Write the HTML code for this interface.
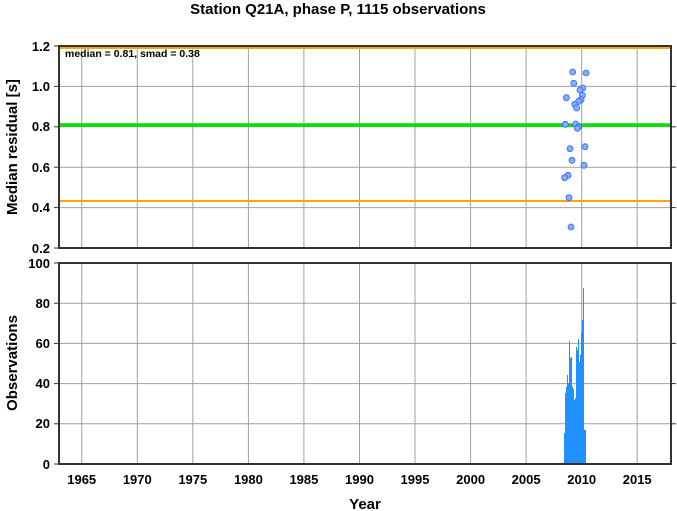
<!DOCTYPE html>
<html><head><meta charset="utf-8"><style>
html,body{margin:0;padding:0;background:#fff}
svg{display:block;font-family:"Liberation Sans",Arial,sans-serif;font-weight:bold}
</style></head><body>
<svg width="677" height="511" viewBox="0 0 677 511" xmlns="http://www.w3.org/2000/svg">
<text x="338" y="14" font-size="15" text-anchor="middle">Station Q21A, phase P, 1115 observations</text>
<g stroke="#a0a0a0" stroke-width="1">
<!-- vertical grid -->
<line x1="81.7" y1="46" x2="81.7" y2="248"/><line x1="137.3" y1="46" x2="137.3" y2="248"/><line x1="192.8" y1="46" x2="192.8" y2="248"/><line x1="248.4" y1="46" x2="248.4" y2="248"/><line x1="303.9" y1="46" x2="303.9" y2="248"/><line x1="359.5" y1="46" x2="359.5" y2="248"/><line x1="415" y1="46" x2="415" y2="248"/><line x1="470.6" y1="46" x2="470.6" y2="248"/><line x1="526.1" y1="46" x2="526.1" y2="248"/><line x1="581.7" y1="46" x2="581.7" y2="248"/><line x1="637.2" y1="46" x2="637.2" y2="248"/>
<line x1="81.7" y1="263" x2="81.7" y2="464"/><line x1="137.3" y1="263" x2="137.3" y2="464"/><line x1="192.8" y1="263" x2="192.8" y2="464"/><line x1="248.4" y1="263" x2="248.4" y2="464"/><line x1="303.9" y1="263" x2="303.9" y2="464"/><line x1="359.5" y1="263" x2="359.5" y2="464"/><line x1="415" y1="263" x2="415" y2="464"/><line x1="470.6" y1="263" x2="470.6" y2="464"/><line x1="526.1" y1="263" x2="526.1" y2="464"/><line x1="581.7" y1="263" x2="581.7" y2="464"/><line x1="637.2" y1="263" x2="637.2" y2="464"/>
<!-- horizontal grid -->
<line x1="59" y1="86.4" x2="671" y2="86.4"/><line x1="59" y1="126.8" x2="671" y2="126.8"/><line x1="59" y1="167.2" x2="671" y2="167.2"/><line x1="59" y1="207.6" x2="671" y2="207.6"/>
<line x1="59" y1="303.2" x2="671" y2="303.2"/><line x1="59" y1="343.4" x2="671" y2="343.4"/><line x1="59" y1="383.6" x2="671" y2="383.6"/><line x1="59" y1="423.8" x2="671" y2="423.8"/>
</g>
<line x1="59" y1="48" x2="671" y2="48" stroke="#ffa500" stroke-width="2"/>
<line x1="59" y1="201" x2="671" y2="201" stroke="#ffa500" stroke-width="2"/>
<line x1="59" y1="125" x2="671" y2="125" stroke="#00e000" stroke-width="3.5"/>
<g fill="#7fb0ff" stroke="#3b62ff" stroke-width="0.8">
<circle cx="572.7" cy="72" r="3"/><circle cx="586" cy="73" r="3"/><circle cx="573.7" cy="83.3" r="3"/><circle cx="582.7" cy="88" r="3"/><circle cx="580" cy="90" r="3"/><circle cx="582.3" cy="95.3" r="3"/><circle cx="566.3" cy="97.7" r="3"/><circle cx="581" cy="99.7" r="3"/><circle cx="578.7" cy="101.3" r="3"/><circle cx="574.7" cy="104.3" r="3"/><circle cx="576.7" cy="108" r="3"/><circle cx="565.3" cy="124.3" r="3"/><circle cx="575.7" cy="124" r="3"/><circle cx="578.7" cy="126.7" r="3"/><circle cx="577.3" cy="128.3" r="3"/><circle cx="570" cy="148.7" r="3"/><circle cx="585" cy="146.7" r="3"/><circle cx="572" cy="160.3" r="3"/><circle cx="584" cy="165.3" r="3"/><circle cx="568" cy="175.3" r="3"/><circle cx="564.7" cy="177.7" r="3"/><circle cx="569" cy="197.7" r="3"/><circle cx="571" cy="227" r="3"/>
</g>
<polygon fill="#1e90ff" points="564,464 564,433 565,433 565,393 566,393 566,387 567,387 567,375 568,375 568,383 569,383 569,341 570,341 570,358 571,358 571,357 572,357 572,387 573,387 573,389 574,389 574,400 575,400 575,398 576,398 576,347 577,347 577,350 578,350 578,339 579,339 579,362 580,362 580,355 581,355 581,333 582,333 582,320 583,320 583,288 584,288 584,430 586,430 586,464"/>
<text x="65" y="57" font-size="10.5">median = 0.81, smad = 0.38</text>
<g fill="none" stroke="#333" stroke-width="2">
<rect x="59" y="46" width="612" height="202"/>
<rect x="59" y="263" width="612" height="201"/>
</g>
<g stroke="#333" stroke-width="1">
<line x1="54" y1="46" x2="59" y2="46"/><line x1="54" y1="86.4" x2="59" y2="86.4"/><line x1="54" y1="126.8" x2="59" y2="126.8"/><line x1="54" y1="167.2" x2="59" y2="167.2"/><line x1="54" y1="207.6" x2="59" y2="207.6"/><line x1="54" y1="248" x2="59" y2="248"/>
<line x1="671" y1="86.4" x2="676" y2="86.4"/><line x1="671" y1="126.8" x2="676" y2="126.8"/><line x1="671" y1="167.2" x2="676" y2="167.2"/><line x1="671" y1="207.6" x2="676" y2="207.6"/>
<line x1="54" y1="263" x2="59" y2="263"/><line x1="54" y1="303.2" x2="59" y2="303.2"/><line x1="54" y1="343.4" x2="59" y2="343.4"/><line x1="54" y1="383.6" x2="59" y2="383.6"/><line x1="54" y1="423.8" x2="59" y2="423.8"/><line x1="54" y1="464" x2="59" y2="464"/>
<line x1="671" y1="303.2" x2="676" y2="303.2"/><line x1="671" y1="343.4" x2="676" y2="343.4"/><line x1="671" y1="383.6" x2="676" y2="383.6"/><line x1="671" y1="423.8" x2="676" y2="423.8"/>
</g>
<g font-size="13" text-anchor="end">
<text x="50" y="51">1.2</text><text x="50" y="91">1.0</text><text x="50" y="131">0.8</text><text x="50" y="172">0.6</text><text x="50" y="212">0.4</text><text x="50" y="253">0.2</text>
<text x="50" y="268">100</text><text x="50" y="308">80</text><text x="50" y="348">60</text><text x="50" y="388">40</text><text x="50" y="428">20</text><text x="50" y="469">0</text>
</g>
<g font-size="13" text-anchor="middle">
<text x="81.7" y="484">1965</text><text x="137.3" y="484">1970</text><text x="192.8" y="484">1975</text><text x="248.4" y="484">1980</text><text x="303.9" y="484">1985</text><text x="359.5" y="484">1990</text><text x="415" y="484">1995</text><text x="470.6" y="484">2000</text><text x="526.1" y="484">2005</text><text x="581.7" y="484">2010</text><text x="637.2" y="484">2015</text>
<text x="365" y="509" font-size="15">Year</text>
<text transform="translate(17,147) rotate(-90)" font-size="15">Median residual [s]</text>
<text transform="translate(17,363) rotate(-90)" font-size="15">Observations</text>
</g>
</svg>
</body></html>
